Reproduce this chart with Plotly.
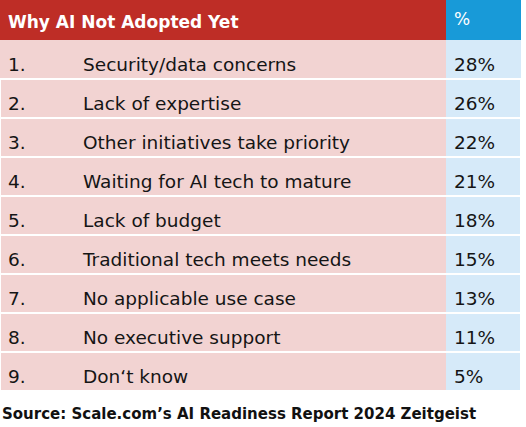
import plotly.graph_objects as go

# Data
ranks = ["1.", "2.", "3.", "4.", "5.", "6.", "7.", "8.", "9."]
reasons = [
    "Security/data concerns",
    "Lack of expertise",
    "Other initiatives take priority",
    "Waiting for AI tech to mature",
    "Lack of budget",
    "Traditional tech meets needs",
    "No applicable use case",
    "No executive support",
    "Don\u2018t know",
]
shares = ["28%", "26%", "22%", "21%", "18%", "15%", "13%", "11%", "5%"]
header_title = "Why AI Not Adopted Yet"
header_pct = "%"
source = "Source: Scale.com\u2019s AI Readiness Report 2024 Zeitgeist"

# Colours
RED = "#BE2D26"
BLUE = "#189AD8"
PINK = "#F2D3D2"
LIGHT_BLUE = "#D6EAF9"
CLEAR = "rgba(0,0,0,0)"

W, H = 526, 427
HEADER_H = 40
ROW_H = 39
TABLE_W = 521
PCT_X = 446
FONT = "DejaVu Sans"
body_font = dict(family=FONT, size=18.5, color="#151515")
head_font = dict(family=FONT, size=17, color="white")
n = len(ranks)


def ydom(top_px, bottom_px):
    # pixel rows (from the top of the figure) -> paper fractions
    return [1 - bottom_px / H, 1 - top_px / H]


fig = go.Figure()

# coloured blocks: header band + pink / light blue body
fig.add_trace(go.Table(
    domain=dict(x=[0, TABLE_W / W], y=ydom(0, HEADER_H + n * ROW_H + 1)),
    columnwidth=[PCT_X, TABLE_W - PCT_X],
    header=dict(values=["", ""], fill_color=[RED, BLUE], line=dict(width=0),
                height=HEADER_H),
    cells=dict(values=[[""] * n, [""] * n], fill_color=[PINK, LIGHT_BLUE],
               line=dict(width=0), height=ROW_H),
))

# white row separators across the whole table (none under the header)
sep_colors = [CLEAR] + ["white"] * (n - 1)
fig.add_trace(go.Table(
    domain=dict(x=[0, TABLE_W / W], y=ydom(0, HEADER_H + n * ROW_H + 1)),
    header=dict(values=[""], fill_color=CLEAR, line=dict(width=0), height=HEADER_H),
    cells=dict(values=[[""] * n], fill_color=CLEAR,
               line=dict(width=2, color=[sep_colors]), height=ROW_H),
))

# header texts
fig.add_trace(go.Table(
    domain=dict(x=[0, TABLE_W / W], y=ydom(4, 4 + HEADER_H + 4)),
    columnwidth=[PCT_X, TABLE_W - PCT_X],
    header=dict(values=["<b>" + header_title + "</b>", header_pct],
                fill_color=CLEAR, line=dict(width=0), align="left",
                height=HEADER_H, font=head_font),
    cells=dict(values=[[""], [""]], fill_color=CLEAR, line=dict(width=0), height=1),
))

# body texts: rank, reason, share
fig.add_trace(go.Table(
    domain=dict(x=[0, TABLE_W / W], y=ydom(0, HEADER_H + 9 + n * ROW_H + 2)),
    columnwidth=[75, PCT_X - 75, TABLE_W - PCT_X],
    header=dict(values=["", "", ""], fill_color=CLEAR, line=dict(width=0),
                height=HEADER_H + 9),
    cells=dict(values=[ranks, reasons, shares], fill_color=CLEAR,
               line=dict(width=0), align="left", height=ROW_H, font=body_font),
))

fig.add_annotation(
    text="<b>" + source + "</b>",
    xref="paper", yref="paper",
    x=0, y=1 - 414 / H,
    xanchor="left", yanchor="middle",
    showarrow=False,
    font=dict(family=FONT, size=15, color="#111111"),
)

fig.update_layout(
    width=W,
    height=H,
    margin=dict(l=0, r=0, t=0, b=0),
    paper_bgcolor="white",
    plot_bgcolor="white",
)

# drop the browser's default page margin so the figure sits at 0,0
fig.write_html("out.html", config={"displayModeBar": False},
               post_script="document.body.style.margin='0';")
